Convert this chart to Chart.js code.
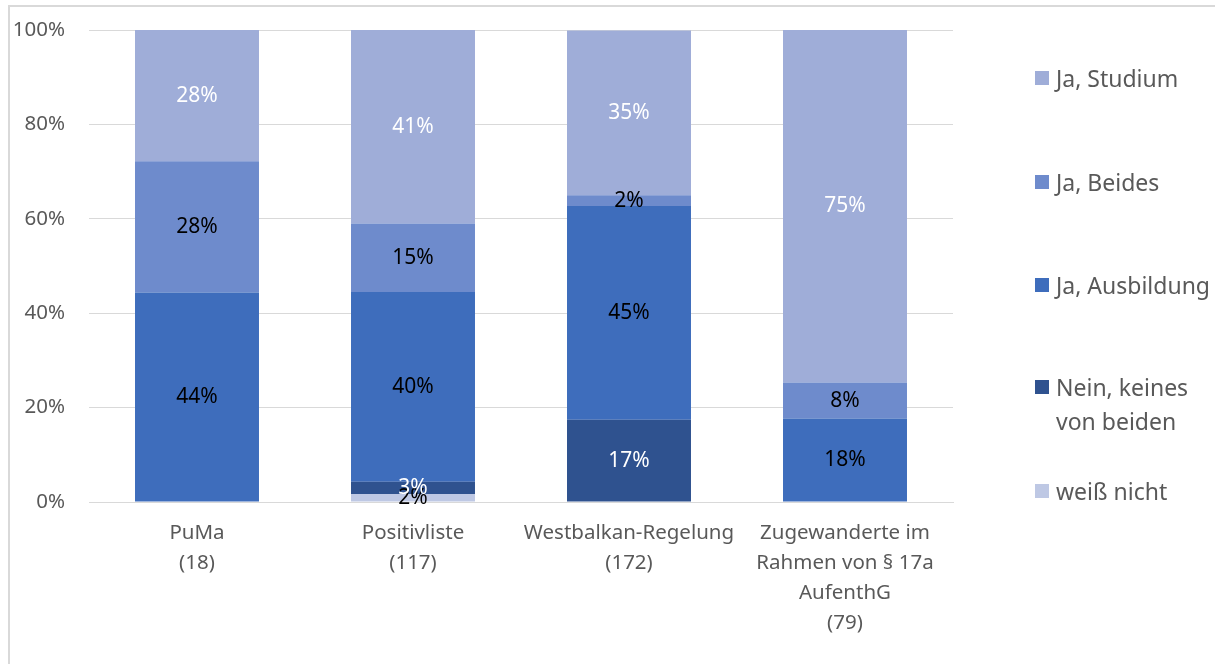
<!DOCTYPE html>
<html>
<head>
<meta charset="utf-8">
<script src="https://cdn.jsdelivr.net/npm/chart.js@4"></script>
<style>
  body { margin: 0; background: #fff; overflow: hidden; }
  #wrap { position: relative; width: 1215px; height: 664px; }
  #chart { position: absolute; left: 0; top: 0; }
  #frame { position: absolute; left: 8px; top: 5px; width: 1300px; height: 700px;
    border-top: 2px solid #d9d9d9; border-left: 2px solid #d9d9d9; }
  #legend { position: absolute; left: 1035px; top: 0; font-family: "Noto Sans", sans-serif;
    font-size: 23px; color: #595959; }
  .item { position: absolute; left: 0; white-space: nowrap; }
  .box { position: absolute; left: 0; width: 14px; height: 14px; }
  .txt { position: absolute; left: 21px; line-height: 34px; }
</style>
</head>
<body>
<div id="wrap">
  <div id="frame"></div>
  <canvas id="chart" width="1215" height="664"></canvas>
  <div id="legend"></div>
</div>
<script>
// Categories (x axis labels)
const categories = [
  ["PuMa", "(18)"],
  ["Positivliste", "(117)"],
  ["Westbalkan-Regelung", "(172)"],
  ["Zugewanderte im", "Rahmen von § 17a", "AufenthG", "(79)"]
];

// Series values in percent (stack order bottom -> top)
const weissNicht = [0, 1.7, 0, 0];
const neinKeines = [0, 2.6, 17.4, 0];
const jaAusbildung = [44.4, 40.2, 45.3, 17.7];
const jaBeides = [27.8, 14.5, 2.3, 7.6];
const jaStudium = [27.8, 41.0, 34.9, 74.7];

// Tick labels of the y axis
const yTicks = [0, 20, 40, 60, 80, 100];

const series = [
  { label: "weiß nicht", data: weissNicht, color: "#bec8e4", text: "#000", legend: ["weiß nicht"] },
  { label: "Nein, keines von beiden", data: neinKeines, color: "#2f528f", text: "#fff", legend: ["Nein, keines", "von beiden"] },
  { label: "Ja, Ausbildung", data: jaAusbildung, color: "#3e6dbc", text: "#000", legend: ["Ja, Ausbildung"] },
  { label: "Ja, Beides", data: jaBeides, color: "#6e8bcc", text: "#000", legend: ["Ja, Beides"] },
  { label: "Ja, Studium", data: jaStudium, color: "#9fadd8", text: "#fff", legend: ["Ja, Studium"] }
];

// Draw percentage labels inside each segment
const segmentLabels = {
  id: "segmentLabels",
  afterDatasetsDraw(chart) {
    const c = chart.ctx;
    c.save();
    c.font = "21px 'Noto Sans', sans-serif";
    c.textAlign = "center";
    c.textBaseline = "middle";
    chart.data.datasets.forEach((ds, i) => {
      const meta = chart.getDatasetMeta(i);
      meta.data.forEach((bar, j) => {
        const v = ds.data[j];
        if (!v) return;
        c.fillStyle = series[i].text;
        c.fillText(Math.round(v) + "%", bar.x, (bar.y + bar.base) / 2);
      });
    });
    c.restore();
  }
};

const ctx = document.getElementById("chart").getContext("2d");
const chart = new Chart(ctx, {
  type: "bar",
  data: {
    labels: categories,
    datasets: series.map(s => ({
      label: s.label,
      data: s.data,
      backgroundColor: s.color,
      borderWidth: 0,
      categoryPercentage: 1,
      barPercentage: 0.574
    }))
  },
  options: {
    responsive: false,
    animation: false,
    layout: { padding: { left: 0, right: 262, top: 30, bottom: 0 } },
    plugins: { legend: { display: false }, tooltip: { enabled: false } },
    scales: {
      x: {
        stacked: true,
        grid: { display: false, drawTicks: false },
        border: { display: true, color: "#d9d9d9", width: 1 },
        ticks: {
          padding: 16,
          color: "#595959",
          maxRotation: 0,
          autoSkip: false,
          font: { family: "Noto Sans", size: 20.5, lineHeight: 1.47 }
        },
        afterFit(scale) { scale.height = 162; }
      },
      y: {
        stacked: true,
        min: 0,
        max: 100,
        afterBuildTicks(scale) { scale.ticks = yTicks.map(v => ({ value: v })); },
        grid: { color: "#d9d9d9", drawTicks: false },
        border: { display: false },
        ticks: {
          padding: 24,
          color: "#595959",
          // small lineHeight keeps the top label from pushing the plot area down
          font: { family: "Noto Sans", size: 20.5, lineHeight: 0.5 },
          callback: v => v + "%"
        },
        afterFit(scale) { scale.width = 89; }
      }
    }
  },
  plugins: [segmentLabels]
});

// Legend on the right, top item = last series
const legendEl = document.getElementById("legend");
const legendY = [78, 182, 285, 404, 491];
series.slice().reverse().forEach((s, k) => {
  const item = document.createElement("div");
  item.className = "item";
  const lines = s.legend.length;
  const top = legendY[k] - (lines * 34) / 2;
  item.style.top = top + "px";
  const box = document.createElement("div");
  box.className = "box";
  box.style.background = s.color;
  box.style.top = (17 - 7) + "px";
  const txt = document.createElement("div");
  txt.className = "txt";
  txt.innerHTML = s.legend.join("<br>");
  item.appendChild(box);
  item.appendChild(txt);
  legendEl.appendChild(item);
});
</script>
</body>
</html>
